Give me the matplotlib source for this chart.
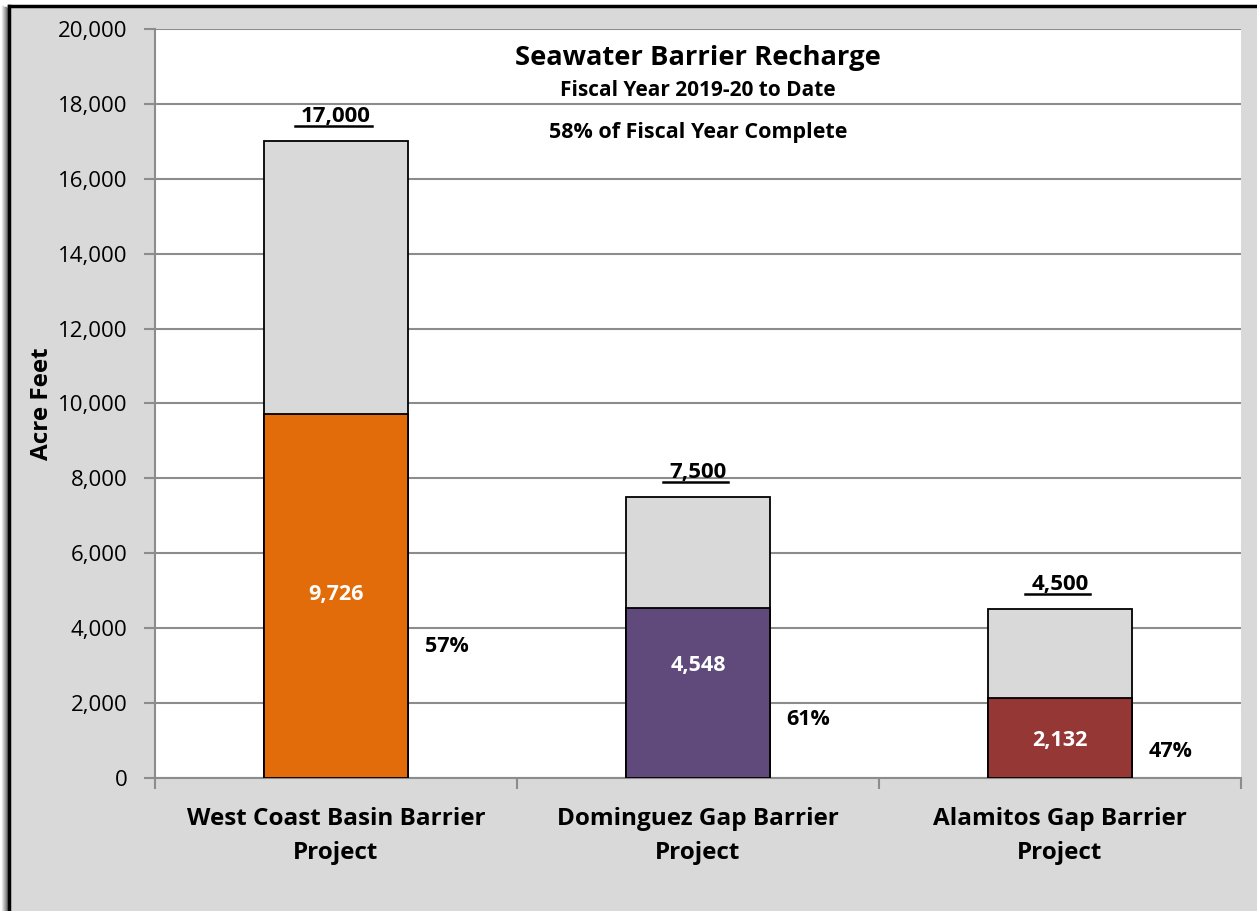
import matplotlib.pyplot as plt
from matplotlib.lines import Line2D
from matplotlib.patches import Rectangle
from matplotlib.ticker import FuncFormatter, MultipleLocator

# Data
projects = ['West Coast Basin Barrier\nProject',
            'Dominguez Gap Barrier\nProject',
            'Alamitos Gap Barrier\nProject']
targets = [17000, 7500, 4500]
recharged = [9726, 4548, 2132]
bar_colors = ['#E36C0A', '#604A7B', '#953735']

plt.rcParams['font.family'] = ['Open Sans', 'DejaVu Sans']

W, H = 1257, 911
fig = plt.figure(figsize=(W / 100, H / 100), dpi=100)
fig.patch.set_facecolor('white')

# gray chart background with black frame on left/top plus soft shadow
fig.add_artist(Rectangle((9 / W, 0), 1 - 9 / W, 1 - 6 / H, transform=fig.transFigure,
                         facecolor='#D9D9D9', edgecolor='none', zorder=-5))
for k, c in enumerate(['#e8e8e8', '#d0d0d0', '#b8b8b8', '#a0a0a0', '#888888', '#707070']):
    x = (2 + k) / W
    fig.add_artist(Line2D([x, x], [0, 1 - (6 + k * 0.3) / H], transform=fig.transFigure,
                          color=c, lw=1.0, zorder=-6))
fig.add_artist(Line2D([9 / W, 9 / W], [0, 1 - 6 / H], transform=fig.transFigure,
                      color='black', lw=2.5))
fig.add_artist(Line2D([9 / W, 1], [1 - 6 / H, 1 - 6 / H], transform=fig.transFigure,
                      color='black', lw=2.5))

ax = fig.add_axes([155 / W, 1 - 778 / H, (1241 - 155) / W, (778 - 29) / H])
ax.set_facecolor('white')

x = range(len(projects))
ax.bar(x, targets, width=0.4, color='#D9D9D9', edgecolor='black', linewidth=1.3, zorder=3)
ax.bar(x, recharged, width=0.4, color=bar_colors, edgecolor='black', linewidth=1.3, zorder=4)

ax.set_xlim(-0.5, 2.5)
ax.set_ylim(0, 20000)
ax.yaxis.set_major_locator(MultipleLocator(2000))
ax.yaxis.set_major_formatter(FuncFormatter(lambda v, p: f'{int(v):,}'))
ax.grid(axis='y', color='#8c8c8c', linewidth=1.5, zorder=0)
ax.set_axisbelow(True)

for s in ['top', 'right']:
    ax.spines[s].set_visible(False)
for s in ['left', 'bottom']:
    ax.spines[s].set_color('#8c8c8c')
    ax.spines[s].set_linewidth(1.5)

ax.set_xticks(list(x))
ax.set_xticklabels(projects, fontsize=17.5, fontweight='bold', linespacing=1.55)
ax.set_xticks([-0.5, 0.5, 1.5, 2.5], minor=True)
ax.tick_params(axis='x', which='major', length=0, pad=21)
ax.tick_params(axis='x', which='minor', length=8, width=1.5, color='#8c8c8c', direction='out')
ax.tick_params(axis='y', length=8, width=1.5, color='#8c8c8c', labelsize=16, pad=12)

ax.set_ylabel('Acre Feet', fontsize=17.5, fontweight='bold')
ax.yaxis.set_label_coords(-0.093, 0.5)

# labels
inner_y = [4900, 3000, 1000]
pct_y = [3500, 1550, 700]
total_texts = []
for i in x:
    t = ax.annotate(f'{targets[i]:,}', (i, targets[i]), xytext=(0, 18), textcoords='offset points',
                    ha='center', va='center', fontsize=16, fontweight='bold', zorder=6)
    total_texts.append(t)
    ax.text(i, inner_y[i], f'{recharged[i]:,}', ha='center', va='center', fontsize=15.5,
            fontweight='bold', color='white', zorder=6)
    pct = round(recharged[i] / targets[i] * 100)
    ax.text(i + 0.245, pct_y[i], f'{pct}%', ha='left', va='center', fontsize=15.5,
            fontweight='bold', zorder=6)

ax.text(0.5, 0.961, 'Seawater Barrier Recharge', transform=ax.transAxes, ha='center', va='center',
        fontsize=19.7, fontweight='bold')
ax.text(0.5, 0.918, 'Fiscal Year 2019-20 to Date', transform=ax.transAxes, ha='center', va='center',
        fontsize=15, fontweight='bold')
ax.text(0.5, 0.862, '58% of Fiscal Year Complete', transform=ax.transAxes, ha='center', va='center',
        fontsize=15.5, fontweight='bold')

# underline the totals
fig.canvas.draw()
r = fig.canvas.get_renderer()
for t in total_texts:
    bb = t.get_window_extent(r)
    y = (bb.y0 + 1) / H
    fig.add_artist(Line2D([(bb.x0 - 6) / W, (bb.x1 + 1) / W], [y, y], transform=fig.transFigure,
                          color='black', lw=1.8))

fig.savefig('out.png', dpi=100)
